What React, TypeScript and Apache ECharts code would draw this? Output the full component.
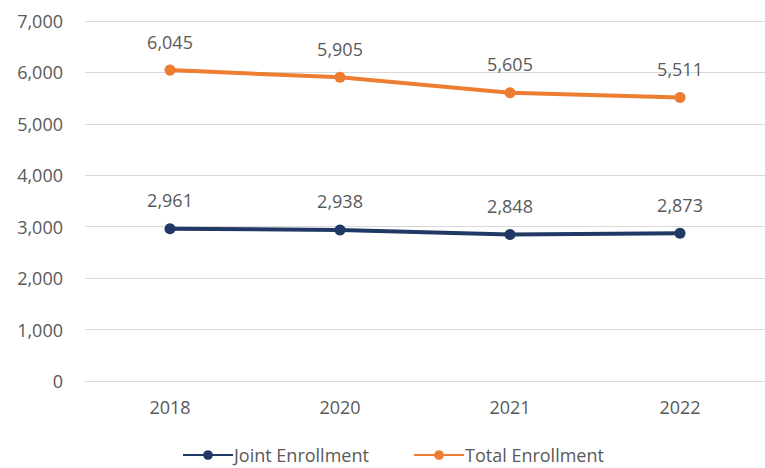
import React, { useEffect, useRef } from "react";
import * as echarts from "echarts";

const categories = ["2018", "2020", "2021", "2022"];
const jointEnrollment = [2961, 2938, 2848, 2873];
const totalEnrollment = [6045, 5905, 5605, 5511];

export default function App() {
  const ref = useRef<HTMLDivElement>(null);
  useEffect(() => {
    const chart = echarts.init(ref.current!, null, { renderer: "svg" });
    const font = "Open Sans, Noto Sans, sans-serif";
    const fs = 18;
    const label = {
      show: true,
      position: "top" as const,
      distance: 14,
      color: "#595959",
      fontSize: fs,
      fontFamily: font,
      formatter: (p: any) => p.value.toLocaleString("en-US"),
    };
    const legendBase = {
      top: 444,
      padding: 0,
      itemWidth: 50,
      itemHeight: 12,
      textStyle: { color: "#595959", fontSize: fs, fontFamily: font, lineHeight: 22, padding: [0, 0, 0, -4] },
    };
    chart.setOption({
      animation: false,
      backgroundColor: "#ffffff",
      grid: { left: 85, right: 0, top: 21, bottom: 87 },
      legend: [
        { ...legendBase, left: 182, data: ["Joint Enrollment"] },
        { ...legendBase, left: 413, data: ["Total Enrollment"] },
      ],
      xAxis: {
        type: "category",
        data: categories,
        boundaryGap: true,
        axisLine: { show: true, lineStyle: { color: "#d9d9d9", width: 1 } },
        axisTick: { show: false },
        axisLabel: { color: "#595959", fontSize: fs, fontFamily: font, margin: 17 },
      },
      yAxis: {
        type: "value",
        min: 0,
        max: 7000,
        interval: 1000,
        axisLine: { show: false },
        axisTick: { show: false },
        splitLine: { lineStyle: { color: "#d9d9d9", width: 1 } },
        axisLabel: {
          color: "#595959",
          fontSize: fs,
          fontFamily: font,
          margin: 22,
          formatter: (v: number) => v.toLocaleString("en-US"),
        },
      },
      series: [
        {
          name: "Joint Enrollment",
          type: "line",
          data: jointEnrollment,
          color: "#203864",
          symbol: "circle",
          symbolSize: 11,
          lineStyle: { width: 4, color: "#203864" },
          itemStyle: { color: "#203864" },
          label,
        },
        {
          name: "Total Enrollment",
          type: "line",
          data: totalEnrollment,
          color: "#ED7D31",
          symbol: "circle",
          symbolSize: 11,
          lineStyle: { width: 4, color: "#ED7D31" },
          itemStyle: { color: "#ED7D31" },
          label,
        },
      ],
    });
    return () => chart.dispose();
  }, []);
  return <div ref={ref} style={{ width: 765, height: 468, position: "absolute", left: 0, top: 0 }} />;
}
